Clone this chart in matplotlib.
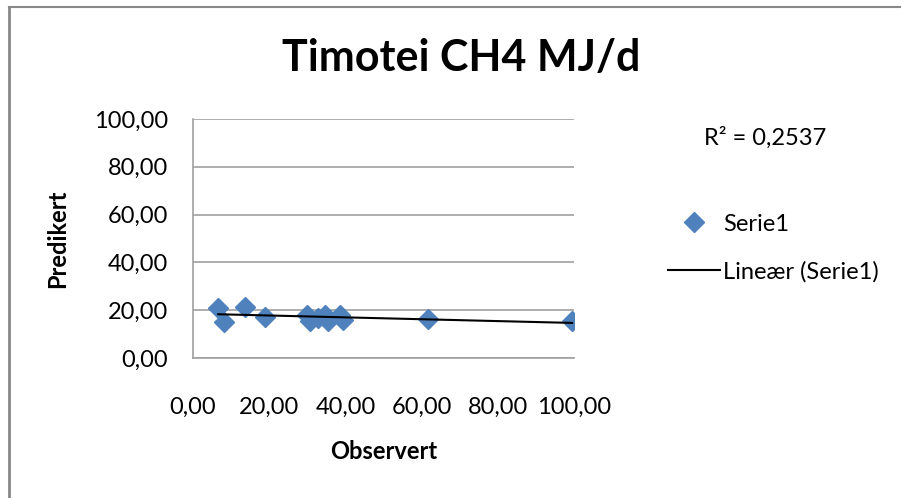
import numpy as np
import matplotlib.pyplot as plt
from matplotlib.lines import Line2D

plt.rcParams['font.family'] = ['Lato', 'DejaVu Sans']

observert = [6.6, 8.1, 13.6, 18.9, 29.9, 30.7, 32.8, 34.6, 35.4, 38.6, 39.4, 61.7, 99.5]
predikert = [20.9, 15.1, 21.3, 17.2, 18.0, 15.4, 16.7, 18.0, 15.6, 18.0, 16.0, 16.3, 15.3]
r2_text = 'R² = 0,2537'

ticks = [0, 20, 40, 60, 80, 100]
tick_labels = ['0,00', '20,00', '40,00', '60,00', '80,00', '100,00']

blue = '#4F81BD'
grey = '#A0A0A0'
fs = 17

fig = plt.figure(figsize=(9.01, 4.98), dpi=100)
ax = fig.add_axes([193 / 901, 1 - 358 / 498, 381 / 901, 239 / 498])

pts, = ax.plot(observert, predikert, linestyle='none', marker='D', markersize=10,
               color=blue, markeredgecolor=blue, label='Serie1', zorder=3)

# linear trend line
k, m = np.polyfit(observert, predikert, 1)
xs = np.array([min(observert), max(observert)])
trend, = ax.plot(xs, k * xs + m, color='black', linewidth=1.5, label='Lineær (Serie1)', zorder=4)

ax.set_xlim(0, 100)
ax.set_ylim(0, 100)
ax.set_xticks(ticks)
ax.set_xticklabels(tick_labels)
ax.set_yticks(ticks)
ax.set_yticklabels(tick_labels)
ax.tick_params(length=0, labelsize=fs)
ax.tick_params(axis='x', pad=28)
ax.tick_params(axis='y', pad=18)
ax.grid(axis='y', color=grey, linewidth=1.2)
ax.set_axisbelow(True)
for s in ['top', 'right']:
    ax.spines[s].set_visible(False)
for s in ['left', 'bottom']:
    ax.spines[s].set_color(grey)
    ax.spines[s].set_linewidth(1.2)

ax.set_xlabel('Observert', fontsize=fs, fontweight='bold', labelpad=16)
ax.set_ylabel('Predikert', fontsize=fs, fontweight='bold', labelpad=18)

fig.text(461 / 901, 1 - 58 / 498, 'Timotei CH4 MJ/d', fontsize=31, fontweight='bold',
         ha='center', va='center')
fig.text(765 / 901, 1 - 138 / 498, r2_text, fontsize=fs, ha='center', va='center')

fig.legend(handles=[pts, trend], loc='center left', bbox_to_anchor=(668 / 901, 1 - 248 / 498),
           frameon=False, fontsize=fs, handlelength=2.2, handletextpad=0.15,
           labelspacing=1.1, borderpad=0, borderaxespad=0)

# chart border (left and top edges)
fig.add_artist(Line2D([8.5 / 901, 8.5 / 901], [0, 1 - 7 / 498], transform=fig.transFigure,
                      color='#888888', linewidth=2))
fig.add_artist(Line2D([8.5 / 901, 1], [1 - 7 / 498, 1 - 7 / 498], transform=fig.transFigure,
                      color='#888888', linewidth=1.5))

fig.savefig('out.png', dpi=100)
